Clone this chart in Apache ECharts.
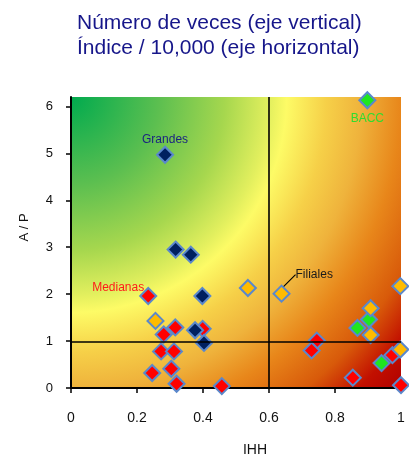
<!DOCTYPE html>
<html><head><meta charset="utf-8">
<script src="https://cdn.jsdelivr.net/npm/echarts@6/dist/echarts.min.js"></script>
<style>html,body{margin:0;padding:0;background:#fff}#c{width:409px;height:454px}</style>
</head><body><div id="c"></div>
<script>
// ---- data ----
const titleLines = ['Número de veces (eje vertical)', 'Índice / 10,000 (eje horizontal)'];
const xTicks = [0, 0.2, 0.4, 0.6, 0.8, 1];
const yTicks = [0, 1, 2, 3, 4, 5, 6];
const xName = 'IHH';
const yName = 'A / P';
const refX = 0.605;
const refY = 0.98;

const grandesX = [0.285, 0.317, 0.363, 0.398, 0.376, 0.403];
const grandesY = [4.97, 2.95, 2.84, 1.96, 1.23, 0.96];

const medianasX = [0.234, 0.316, 0.281, 0.399, 0.273, 0.312, 0.246, 0.304, 0.320, 0.457, 0.745, 0.729, 0.854, 0.974, 1.0];
const medianasY = [1.96, 1.29, 1.14, 1.26, 0.78, 0.78, 0.32, 0.41, 0.09, 0.04, 1.01, 0.80, 0.22, 0.70, 0.06];

const filialesX = [0.256, 0.536, 0.638, 0.998, 0.908, 0.908, 0.998];
const filialesY = [1.43, 2.13, 2.01, 2.17, 1.70, 1.13, 0.82];

const baccX = [0.898, 0.868, 0.903, 0.941];
const baccY = [6.13, 1.28, 1.46, 0.53];

const groupNames = ['Grandes', 'Medianas', 'Filiales', 'BACC'];

// ---- chart ----
function pts(xs, ys) { return xs.map((x, i) => [x, ys[i]]); }

const chart = echarts.init(document.getElementById('c'), null, {renderer: 'canvas'});

const bg = new echarts.graphic.RadialGradient(0, 0, 1.512, [
  {offset: 0, color: '#00aa4e'},
  {offset: 0.2, color: '#5cbf50'},
  {offset: 0.35, color: '#a6d74e'},
  {offset: 0.45, color: '#e2ef5e'},
  {offset: 0.49, color: '#fdfb66'},
  {offset: 0.58, color: '#f6d048'},
  {offset: 0.66, color: '#efb33c'},
  {offset: 0.75, color: '#e8861a'},
  {offset: 0.85, color: '#d85a0a'},
  {offset: 0.93, color: '#c21000'},
  {offset: 1, color: '#b00000'}
]);

const border = {borderColor: '#5a88cc', borderWidth: 2, opacity: 1};
const lblFont = {fontFamily: 'Liberation Sans, Arial, sans-serif', fontSize: 12};

function mk(name, xs, ys, color, labelIdx, labelOpt) {
  return {
    name: name, type: 'scatter', symbol: 'diamond', symbolSize: 16, clip: false,
    itemStyle: Object.assign({color: color}, border),
    emphasis: {disabled: true},
    data: pts(xs, ys).map((p, i) => i === labelIdx
      ? {value: p, label: Object.assign({show: true, formatter: name}, lblFont, labelOpt)}
      : {value: p}),
    z: 3
  };
}

const sGreen = mk(groupNames[3], baccX, baccY, '#1fe61f', 0, {position: 'bottom', distance: 3, color: '#2fdc2f'});
sGreen.markLine = {
  silent: true, symbol: ['none', 'none'], animation: false,
  label: {show: false},
  lineStyle: {color: '#000', width: 1.6, type: 'solid'},
  data: [{xAxis: refX}, {yAxis: refY}]
};
const sRed = mk(groupNames[1], medianasX, medianasY, '#ff0000', 0, {position: 'left', distance: 0, offset: [5, -8], color: '#ff1a1a'});
const sOrange = mk(groupNames[2], filialesX, filialesY, '#ffbb00', 2, {position: 'right', distance: 5, color: '#1a1a1a'});
sOrange.labelLayout = function (p) { return p.dataIndex === 2 ? {dy: -19, dx: 0} : {}; };
sOrange.labelLine = {show: true, lineStyle: {color: '#000', width: 1.2}};
const sNavy = mk(groupNames[0], grandesX, grandesY, '#002060', 0, {position: 'top', distance: 0, color: '#1b2580'});

const axisFont = {fontFamily: 'Liberation Sans, Arial, sans-serif', color: '#111'};

chart.setOption({
  animation: false,
  backgroundColor: '#fff',
  title: {
    text: titleLines.join('\n'), left: 77, top: 11, padding: 0,
    textStyle: {fontFamily: 'Liberation Sans, Arial, sans-serif', fontSize: 21, fontWeight: 'normal', color: '#16168a', lineHeight: 25}
  },
  grid: {left: 71, right: 8, top: 97, bottom: 66, show: true, backgroundColor: bg, borderWidth: 0, outerBoundsMode: 'none', containLabel: false},
  xAxis: {
    type: 'value', min: 0, max: 1, interval: 0.2,
    name: xName, nameLocation: 'middle', nameGap: 55,
    nameTextStyle: Object.assign({fontSize: 14, padding: [0, 0, 0, 38]}, axisFont),
    axisLine: {show: true, onZero: false, lineStyle: {color: '#000', width: 2}},
    axisTick: {show: true, length: 5, lineStyle: {color: '#000', width: 1.5}},
    axisLabel: Object.assign({fontSize: 14, margin: 23, formatter: v => String(v)}, axisFont),
    splitLine: {show: false}
  },
  yAxis: {
    type: 'value', min: 0, max: 6.2,
    name: yName, nameLocation: 'middle', nameGap: 40,
    nameTextStyle: Object.assign({fontSize: 13, padding: [0, 0, 0, 30]}, axisFont),
    axisLine: {show: true, onZero: false, lineStyle: {color: '#000', width: 2}},
    axisTick: {show: true, length: 5, customValues: yTicks, lineStyle: {color: '#000', width: 1.5}},
    axisLabel: Object.assign({fontSize: 13, margin: 18, customValues: yTicks}, axisFont),
    splitLine: {show: false}
  },
  series: [sGreen, sRed, sOrange, sNavy]
});
</script>
</body></html>
